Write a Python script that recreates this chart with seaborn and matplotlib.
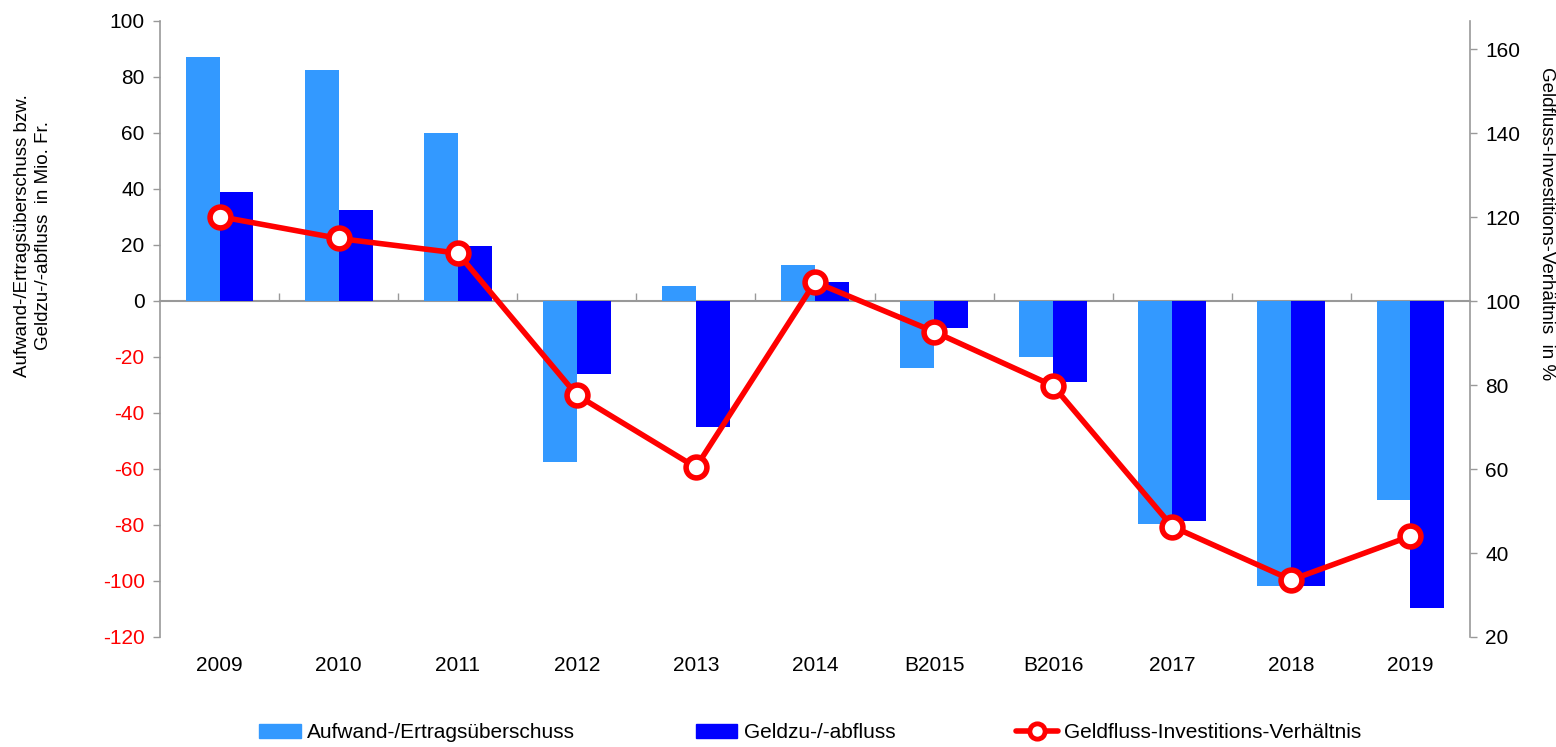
import matplotlib
matplotlib.use('Agg')
import matplotlib.pyplot as plt
from matplotlib.lines import Line2D
import seaborn as sns
import pandas as pd
import numpy as np

# data
years = ["2009", "2010", "2011", "2012", "2013", "2014",
         "B2015", "B2016", "2017", "2018", "2019"]
ueberschuss = [87.3, 82.4, 59.9, -57.4, 5.4, 12.9, -24.0, -19.9, -79.8, -101.7, -71.1]
geldfluss = [38.8, 32.5, 19.6, -26.1, -45.1, 6.7, -9.8, -28.8, -78.5, -101.7, -109.8]
verhaeltnis = [120.1, 114.9, 111.4, 77.6, 60.4, 104.5, 92.7, 79.8, 46.3, 33.6, 44.0]

name_a = "Aufwand-/Ertragsüberschuss"
name_b = "Geldzu-/-abfluss"
name_c = "Geldfluss-Investitions-Verhältnis"

light = "#3399FF"
dark = "#0000FF"
red = "#FF0000"
grey = "#999999"

sns.set_theme(style="white")
plt.rcParams['font.family'] = ['Liberation Sans', 'DejaVu Sans']
plt.rcParams['text.color'] = 'black'
plt.rcParams['xtick.color'] = 'black'
plt.rcParams['ytick.color'] = 'black'

bars = pd.DataFrame({
    "Jahr": years * 2,
    "Wert": ueberschuss + geldfluss,
    "Serie": [name_a] * len(years) + [name_b] * len(years),
})

fig = plt.figure(figsize=(15.56, 7.47), dpi=100)
ax = fig.add_axes([160 / 1556, 1 - 637 / 747, (1470 - 160) / 1556, (637 - 21) / 747])

sns.barplot(data=bars, x="Jahr", y="Wert", hue="Serie", order=years,
            palette=[light, dark], width=0.57, gap=0, saturation=1,
            linewidth=0, edgecolor="none", legend=False, ax=ax, zorder=3)

ax.set_xlim(-0.5, len(years) - 0.5)
ax.set_ylim(-120, 100)
ax.set_xlabel("")
ax.set_ylabel("")

# left axis
yt = np.arange(-120, 101, 20)
ax.set_yticks(yt)
ax.set_yticklabels([str(v) for v in yt])
for lab, v in zip(ax.get_yticklabels(), yt):
    lab.set_color(red if v < 0 else "black")
ax.tick_params(axis="y", left=True, direction="out", length=5, width=1,
               color=grey, labelsize=15, pad=6)
ax.tick_params(axis="x", bottom=False, length=0, labelsize=15, pad=14,
               labelcolor="black")
for s in ["top", "right", "bottom"]:
    ax.spines[s].set_visible(False)
ax.spines["left"].set_color(grey)
ax.spines["left"].set_linewidth(1.2)

# zero line with category separators
zero = ax.secondary_xaxis(120 / 220)
zero.set_xticks(np.arange(0.5, len(years) - 1, 1.0))
zero.set_xticklabels([])
zero.tick_params(direction="out", length=6, width=1, color=grey)
for s in zero.spines.values():
    s.set_color(grey)
    s.set_linewidth(1.5)

# right axis with ratio line
ax2 = ax.twinx()
x_pos = np.arange(len(years))
sns.lineplot(x=x_pos, y=verhaeltnis, ax=ax2, color=red, linewidth=4,
             marker="o", markersize=15, markerfacecolor="white",
             markeredgecolor=red, markeredgewidth=4)
ax2.set_ylim(20, 166.67)
ax2.set_yticks(np.arange(20, 161, 20))
ax2.tick_params(axis="y", right=True, direction="out", length=5, width=1,
                color=grey, labelsize=15, pad=6, labelcolor="black")
for s in ["top", "left", "bottom"]:
    ax2.spines[s].set_visible(False)
ax2.spines["right"].set_color(grey)
ax2.spines["right"].set_linewidth(1.2)
ax2.set_xlim(-0.5, len(years) - 0.5)

# axis titles
fig.text(0.021, 1 - 236 / 747,
         "Aufwand-/Ertragsüberschuss bzw.\nGeldzu-/-abfluss  in Mio. Fr.",
         rotation=90, ha="center", va="center", multialignment="center",
         fontsize=13.5, linespacing=1.3)
fig.text(1547 / 1556, 1 - 224 / 747, "Geldfluss-Investitions-Verhältnis  in %",
         rotation=-90, ha="center", va="center", fontsize=13.5)

# legend
handles = [
    plt.Rectangle((0, 0), 1, 1, color=light),
    plt.Rectangle((0, 0), 1, 1, color=dark),
    Line2D([0], [0], color=red, linewidth=4, marker="o", markersize=11,
           markerfacecolor="white", markeredgecolor=red, markeredgewidth=3.5),
]
fig.legend(handles, [name_a, name_b, name_c], loc="center",
           bbox_to_anchor=(810 / 1556, 0.019), ncol=3, frameon=False,
           fontsize=15, handlelength=2.0, handleheight=0.6,
           handletextpad=0.3, columnspacing=5.8)

fig.savefig("out.png", dpi=100)
